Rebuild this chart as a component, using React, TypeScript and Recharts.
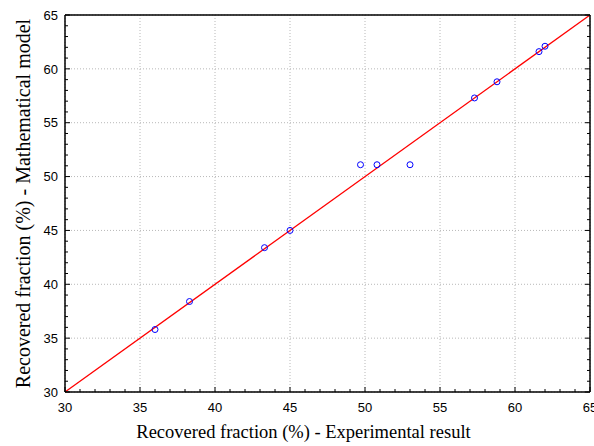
import {
  ScatterChart,
  Scatter,
  XAxis,
  YAxis,
  CartesianGrid,
  ReferenceLine,
  Label,
} from 'recharts';

// values
const experimental = [36.0, 38.3, 43.3, 45.0, 49.7, 50.8, 53.0, 57.3, 58.8, 61.6, 62.0];
const model = [35.8, 38.4, 43.4, 45.0, 51.1, 51.1, 51.1, 57.3, 58.8, 61.6, 62.1];
const majorTicks = [30, 35, 40, 45, 50, 55, 60, 65];
const allTicks = [
  30, 31, 32, 33, 34, 35, 36, 37, 38, 39, 40, 41, 42, 43, 44, 45, 46, 47,
  48, 49, 50, 51, 52, 53, 54, 55, 56, 57, 58, 59, 60, 61, 62, 63, 64, 65,
];
const fitLine = [30, 65];
const axisDomain: [number, number] = [30, 65];

const points = experimental.map((x, i) => ({ x, y: model[i] }));

const sansFont = "'Liberation Sans', Arial, sans-serif";
const serifFont = "'Liberation Serif', 'Times New Roman', serif";

type Side = 'bottom' | 'top' | 'left' | 'right';

function makeTick(side: Side) {
  return (props: any) => {
    const { x, y, payload } = props;
    const v = payload.value as number;
    const major = majorTicks.includes(v);
    const len = major ? 5 : 3;
    let line;
    if (side === 'bottom') line = <line x1={x} y1={y} x2={x} y2={y - len} stroke="#000" />;
    else if (side === 'top') line = <line x1={x} y1={y} x2={x} y2={y + len} stroke="#000" />;
    else if (side === 'left') line = <line x1={x} y1={y} x2={x + len} y2={y} stroke="#000" />;
    else line = <line x1={x} y1={y} x2={x - len} y2={y} stroke="#000" />;
    let text = null;
    if (major && side === 'bottom') {
      text = (
        <text x={x} y={y + 20} textAnchor="middle" fontSize={13} fontFamily={sansFont} fill="#000">
          {v}
        </text>
      );
    } else if (major && side === 'left') {
      text = (
        <text x={x - 7} y={y} dy="0.36em" textAnchor="end" fontSize={13} fontFamily={sansFont} fill="#000">
          {v}
        </text>
      );
    }
    return (
      <g>
        {line}
        {text}
      </g>
    );
  };
}

const axisLine = { stroke: '#000', strokeWidth: 1.5 };

export default function App() {
  return (
    <div style={{ position: 'absolute', left: 0, top: 0, background: '#fff' }}>
      <ScatterChart width={594} height={446} margin={{ top: 0, right: 0, bottom: 0, left: 0 }}>
        <CartesianGrid
          xAxisId="x"
          yAxisId="y"
          stroke="#b8b8b8"
          strokeDasharray="1 2"
          verticalValues={majorTicks}
          horizontalValues={majorTicks}
        />
        <XAxis
          xAxisId="x"
          type="number"
          dataKey="x"
          domain={axisDomain}
          allowDataOverflow
          ticks={allTicks}
          interval={0}
          tickLine={false}
          tickSize={0}
          tickMargin={0}
          height={54}
          axisLine={axisLine}
          tick={makeTick('bottom')}
        >
          <Label
            value="Recovered fraction (%) - Experimental result"
            position="insideBottom"
            offset={8}
            dx={-24}
            style={{ fontFamily: serifFont, fontSize: 18.5, fill: '#000' }}
          />
        </XAxis>
        <XAxis
          xAxisId="xt"
          orientation="top"
          type="number"
          domain={axisDomain}
          allowDataOverflow
          ticks={allTicks}
          interval={0}
          tickLine={false}
          tickSize={0}
          tickMargin={0}
          height={15}
          axisLine={axisLine}
          tick={makeTick('top')}
        />
        <YAxis
          yAxisId="y"
          type="number"
          dataKey="y"
          domain={axisDomain}
          allowDataOverflow
          ticks={allTicks}
          interval={0}
          tickLine={false}
          tickSize={0}
          tickMargin={0}
          width={65}
          axisLine={axisLine}
          tick={makeTick('left')}
        >
          <Label
            value="Recovered fraction (%) - Mathematical model"
            position="insideLeft"
            offset={23}
            angle={-90}
            style={{ fontFamily: serifFont, fontSize: 20, fill: '#000', textAnchor: 'middle' }}
          />
        </YAxis>
        <YAxis
          yAxisId="yr"
          orientation="right"
          type="number"
          domain={axisDomain}
          allowDataOverflow
          ticks={allTicks}
          interval={0}
          tickLine={false}
          tickSize={0}
          tickMargin={0}
          width={4}
          axisLine={axisLine}
          tick={makeTick('right')}
        />
        <ReferenceLine
          xAxisId="x"
          yAxisId="y"
          segment={[
            { x: fitLine[0], y: fitLine[0] },
            { x: fitLine[1], y: fitLine[1] },
          ]}
          stroke="#ff0000"
          strokeWidth={1.3}
        />
        <Scatter
          xAxisId="x"
          yAxisId="y"
          data={points}
          isAnimationActive={false}
          shape={(p: any) => (
            <circle cx={p.cx} cy={p.cy} r={3} fill="none" stroke="#0000ff" strokeWidth={1} />
          )}
        />
      </ScatterChart>
    </div>
  );
}
